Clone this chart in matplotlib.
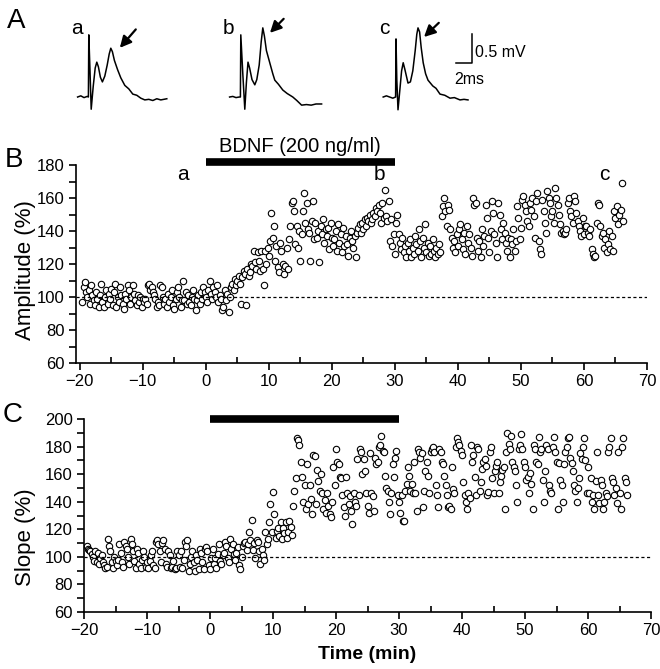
import numpy as np
import matplotlib
matplotlib.use('Agg')
import matplotlib.pyplot as plt
from matplotlib.ticker import MultipleLocator

plt.rcParams['font.family'] = ['Liberation Sans', 'DejaVu Sans']

# ---- panel A: example traces (ms after stimulus, mV above baseline)
trace_a_t = [-1.4, -1.0, -0.6, -0.2, -0.05, 0.0, 0.15, 0.3, 0.55, 0.8, 1.0, 1.2, 1.45, 1.7, 2.0, 2.3,
             2.55, 2.75, 2.95, 3.2, 3.6, 4.0, 4.5, 5.0, 5.5, 6.0, 6.5, 7.0, 7.5, 8.0, 8.5, 9.0, 9.75]
trace_a_v = [0.0, 0.02, -0.01, 0.01, 0.0, 1.07, 0.45, -0.21, 0.18, 0.50, 0.60, 0.52, 0.34, 0.26, 0.36, 0.55,
             0.74, 0.84, 0.78, 0.63, 0.47, 0.33, 0.20, 0.14, 0.05, 0.03, -0.02, -0.05, -0.04, -0.06, -0.03, -0.05, -0.03]
trace_b_t = [-1.4, -1.0, -0.6, -0.2, -0.05, 0.0, 0.25, 0.5, 0.7, 0.9, 1.1, 1.4, 1.75, 2.0, 2.3, 2.55,
             2.75, 2.95, 3.2, 3.6, 4.0, 4.25, 4.7, 5.25, 5.8, 6.5, 7.0, 7.6, 8.2, 8.8, 9.4, 10.1]
trace_b_v = [0.0, 0.01, -0.01, 0.0, 0.0, 1.07, 0.4, -0.21, 0.25, 0.60, 0.50, 0.30, 0.21, 0.30, 0.55, 0.95,
             1.19, 1.05, 0.80, 0.60, 0.40, 0.29, 0.22, 0.12, 0.06, 0.0, -0.06, -0.14, -0.13, -0.14, -0.12, -0.12]
trace_c_t = [-1.6, -1.2, -0.8, -0.4, -0.05, 0.0, 0.1, 0.25, 0.5, 0.7, 0.9, 1.1, 1.5, 1.8, 2.1, 2.4,
             2.6, 2.75, 2.95, 3.15, 3.4, 3.7, 4.0, 4.6, 5.0, 5.5, 6.1, 6.75, 7.3, 8.0, 8.5, 9.0]
trace_c_v = [0.0, 0.02, 0.0, -0.02, 0.0, 1.0, 0.3, -0.22, 0.15, 0.45, 0.59, 0.48, 0.24, 0.26, 0.45, 0.80,
             1.08, 1.19, 1.12, 0.85, 0.59, 0.40, 0.29, 0.19, 0.15, 0.05, 0.03, -0.02, -0.01, -0.05, -0.04, -0.05]
trace_names = ['a', 'b', 'c']

# ---- panels B/C: one response every 12 s
t_start = -19.6   # min
t_step = 0.2      # min

amplitude = [
    [97, 106, 109, 103, 100], [104, 96, 107, 101, 98], [95, 103, 99, 94, 101], [108, 97, 94, 100, 104],
    [96, 102, 99, 105, 95], [103, 108, 94, 100, 97], [106, 101, 96, 93, 102], [99, 107, 104, 96, 100],
    [107, 102, 98, 95, 101], [97, 100, 94, 99, 97], [99, 96, 107, 108, 104], [106, 103, 101, 99, 94],
    [97, 95, 107, 106, 100], [96, 99, 94, 102, 97], [100, 104, 95, 93, 99], [103, 106, 100, 94, 98],
    [110, 98, 103, 96, 101], [97, 95, 100, 104, 99], [92, 98, 101, 96, 103], [99, 106, 103, 100, 97],
    [104, 110, 102, 99, 106], [103, 100, 107, 97, 101], [99, 92, 94, 104, 98], [102, 91, 100, 106, 108],
    [104, 111, 107, 110, 113], [108, 96, 112, 116, 114], [95, 117, 113, 115, 120], [119, 128, 121, 117, 127],
    [122, 116, 128, 117, 107], [128, 120, 130, 125, 134], [151, 136, 143, 122, 131], [118, 115, 133, 128, 120],
    [114, 119, 130, 117, 135], [143, 157, 158, 152, 132], [143, 130, 140, 122, 138], [152, 163, 145, 157, 141],
    [139, 122, 146, 158, 135], [145, 136, 140, 121, 143], [138, 147, 133, 141, 137], [142, 129, 145, 136, 131],
    [135, 140, 128, 144, 133], [138, 127, 142, 131, 137], [132, 125, 136, 140, 134], [130, 137, 124, 139, 142],
    [144, 139, 145, 141, 147], [143, 148, 146, 150, 145], [147, 151, 149, 154, 152], [156, 151, 145, 157, 148],
    [165, 149, 146, 158, 134], [147, 131, 138, 126, 145], [150, 138, 133, 129, 136], [127, 131, 124, 133, 128],
    [135, 124, 130, 126, 137], [132, 128, 141, 134, 124], [136, 130, 144, 127, 133], [125, 131, 126, 135, 128],
    [124, 130, 126, 132, 127], [149, 155, 160, 152, 143], [156, 153, 141, 136, 130], [134, 127, 138, 131, 141],
    [144, 135, 129, 139, 126], [143, 133, 138, 130, 125], [160, 156, 157, 136, 128], [134, 124, 141, 131, 137],
    [156, 148, 136, 127, 140], [158, 151, 138, 133, 124], [157, 150, 141, 135, 145], [139, 133, 128, 136, 124],
    [135, 132, 141, 128, 134], [155, 148, 135, 142, 159], [161, 156, 152, 146, 143], [157, 153, 160, 149, 136],
    [158, 163, 134, 129, 126], [159, 152, 145, 139, 164], [160, 157, 149, 152, 145], [166, 160, 156, 150, 144],
    [139, 140, 138, 139, 141], [157, 160, 152, 149, 145], [161, 158, 151, 146, 143], [140, 137, 148, 138, 143],
    [143, 139, 137, 141, 129], [126, 124, 125, 145, 157], [156, 143, 137, 139, 130], [135, 127, 132, 140, 129],
    [137, 128, 152, 148, 155], [144, 150, 153, 169, 146],
]

slope = [
    [108, 106, 105, 104, 102], [100, 97, 104, 96, 103], [95, 99, 101, 96, 94], [92, 93, 113, 108, 104],
    [96, 92, 100, 97, 94], [98, 109, 103, 96, 93], [111, 108, 106, 100, 95], [113, 109, 104, 97, 92],
    [106, 103, 95, 92, 98], [104, 100, 93, 96, 92], [97, 101, 104, 94, 92], [111, 112, 109, 104, 96],
    [110, 112, 106, 95, 93], [104, 101, 92, 93, 97], [91, 92, 104, 101, 93], [104, 92, 98, 111, 108],
    [112, 90, 95, 100, 104], [96, 90, 101, 98, 91], [106, 103, 96, 91, 106], [107, 104, 94, 91, 99],
    [106, 95, 99, 92, 102], [109, 97, 95, 101, 103], [111, 108, 99, 96, 113], [106, 109, 102, 98, 103],
    [107, 94, 91, 100, 108], [110, 111, 105, 109, 118], [112, 127, 105, 110, 99], [112, 111, 104, 95, 106],
    [101, 98, 118, 109, 113], [125, 138, 118, 147, 131], [114, 119, 121, 115, 125], [113, 121, 117, 125, 114],
    [118, 126, 122, 116, 137], [148, 157, 186, 185, 181], [169, 158, 140, 152, 135], [167, 138, 152, 142, 131],
    [174, 173, 138, 163, 155], [148, 160, 146, 135, 141], [132, 146, 137, 131, 129], [140, 165, 152, 178, 169],
    [167, 158, 157, 145, 136], [130, 158, 146, 138, 144], [133, 124, 146, 140, 137], [171, 145, 178, 176, 160],
    [171, 162, 146, 137, 132], [175, 146, 144, 133, 172], [167, 169, 180, 181, 188], [177, 176, 159, 150, 148],
    [140, 131, 146, 167, 158], [172, 177, 145, 140, 132], [145, 126, 126, 148, 153], [165, 159, 148, 153, 146],
    [169, 146, 133, 178, 176], [172, 175, 136, 148, 162], [169, 159, 146, 176, 178], [180, 176, 152, 145, 136],
    [178, 176, 169, 167, 159], [152, 145, 136, 137, 135], [165, 149, 146, 180, 186], [183, 181, 177, 174, 154],
    [145, 140, 135, 146, 143], [181, 169, 174, 158, 145], [180, 178, 148, 154, 164], [169, 171, 166, 145, 147],
    [176, 180, 157, 146, 162], [166, 169, 146, 154, 159], [163, 165, 135, 176, 190], [182, 178, 188, 169, 165],
    [162, 152, 140, 178, 181], [189, 178, 169, 165, 156], [158, 146, 161, 153, 135], [181, 178, 169, 167, 187],
    [176, 178, 156, 140, 162], [181, 178, 152, 148, 146], [180, 187, 176, 169, 135], [168, 156, 152, 140, 167],
    [176, 180, 186, 187, 172], [168, 162, 152, 148, 140], [150, 157, 175, 171, 180], [186, 170, 146, 165, 146],
    [157, 140, 145, 135, 155], [176, 145, 139, 156, 152], [135, 140, 146, 144, 176], [180, 186, 157, 154, 145],
    [150, 139, 176, 146, 135], [180, 186, 157, 154, 145],
]

bdnf_on, bdnf_off = 0, 30
sample_times = {'a': -3.6, 'b': 27.6, 'c': 63.3}

amp = np.ravel(amplitude)
slp = np.ravel(slope)
t = t_start + t_step * np.arange(len(amp))

fig = plt.figure(figsize=(6.6, 6.69), dpi=100)

# ---------------- A
axA = fig.add_axes([0, 529 / 669, 1, 140 / 669])
axA.set_xlim(0, 82.5)
axA.set_ylim(-0.74, 1.67)
axA.axis('off')
offsets = [11.1, 30.1, 49.5]
traces = [(trace_a_t, trace_a_v), (trace_b_t, trace_b_v), (trace_c_t, trace_c_v)]
arrows = [((14.75, 0.81), (17.2, 1.2)), ((33.5, 1.07), (35.7, 1.38)), ((52.75, 1.0), (55.1, 1.31))]
for name, off, (tt, vv), (tip, tail) in zip(trace_names, offsets, traces, arrows):
    axA.plot(np.array(tt) + off, vv, color='black', lw=1.1)
    axA.text(off - 1.5, 1.18, name, fontsize=15, ha='center', va='center')
    axA.annotate('', xy=tip, xytext=tail,
                 arrowprops=dict(arrowstyle='-|>', color='black', lw=1.6, mutation_scale=17))
# scale bar 2 ms / 0.5 mV
axA.plot([57, 59, 59], [0.59, 0.59, 1.09], color='black', lw=1.1)
axA.text(59.4, 0.76, '0.5 mV', fontsize=11.5, va='center')
axA.text(58.6, 0.3, '2ms', fontsize=11.5, ha='center', va='center')
fig.text(16 / 660, 1 - 21 / 669, 'A', fontsize=20, ha='center', va='center')

# ---------------- B, C
axB = fig.add_axes([76 / 660, 306 / 669, 571 / 660, 198 / 669])
axC = fig.add_axes([84 / 660, 57 / 669, 567 / 660, 193 / 669])

for ax, y, lims in [(axB, amp, (60, 180)), (axC, slp, (60, 200))]:
    ax.plot(t, y, 'o', mfc='white', mec='black', ms=4.6, mew=0.8, ls='none')
    ax.axhline(100, color='black', lw=0.9, ls=(0, (2.5, 2)))
    ax.set_ylim(*lims)
    ax.spines['top'].set_visible(False)
    ax.spines['right'].set_visible(False)
    ax.spines['left'].set_linewidth(1.2)
    ax.spines['bottom'].set_linewidth(1.2)
    ax.xaxis.set_major_locator(MultipleLocator(10))
    ax.xaxis.set_minor_locator(MultipleLocator(5))
    ax.yaxis.set_major_locator(MultipleLocator(20))
    ax.yaxis.set_minor_locator(MultipleLocator(10))
    ax.tick_params(which='major', length=5, width=1.2, labelsize=12, pad=3)
    ax.tick_params(axis='x', which='minor', direction='in', length=4, width=1.2)
    ax.tick_params(axis='y', which='minor', length=5, width=1.2)

axB.set_xlim(-20.6, 70)
axC.set_xlim(-20, 70)

axB.plot([bdnf_on, bdnf_off], [182, 182], color='black', lw=5.5, solid_capstyle='butt', clip_on=False)
axB.text((bdnf_on + bdnf_off) / 2, 191.5, 'BDNF (200 ng/ml)', fontsize=14.5, ha='center', va='center')
for name, x in sample_times.items():
    axB.text(x, 174, name, fontsize=15, ha='center', va='center')
fig.text(25 / 660, 1 - 270 / 669, 'Amplitude (%)', fontsize=16, rotation=90, ha='center', va='center')
fig.text(14 / 660, 1 - 160 / 669, 'B', fontsize=20, ha='center', va='center')

axC.plot([bdnf_on, bdnf_off], [200, 200], color='black', lw=5.5, solid_capstyle='butt', clip_on=False)
fig.text(26 / 660, 1 - 537 / 669, 'Slope (%)', fontsize=16, rotation=90, ha='center', va='center')
axC.set_xlabel('Time (min)', fontsize=14, fontweight='bold', labelpad=6)
fig.text(13 / 660, 1 - 415 / 669, 'C', fontsize=20, ha='center', va='center')

fig.savefig('out.png', dpi=100)
